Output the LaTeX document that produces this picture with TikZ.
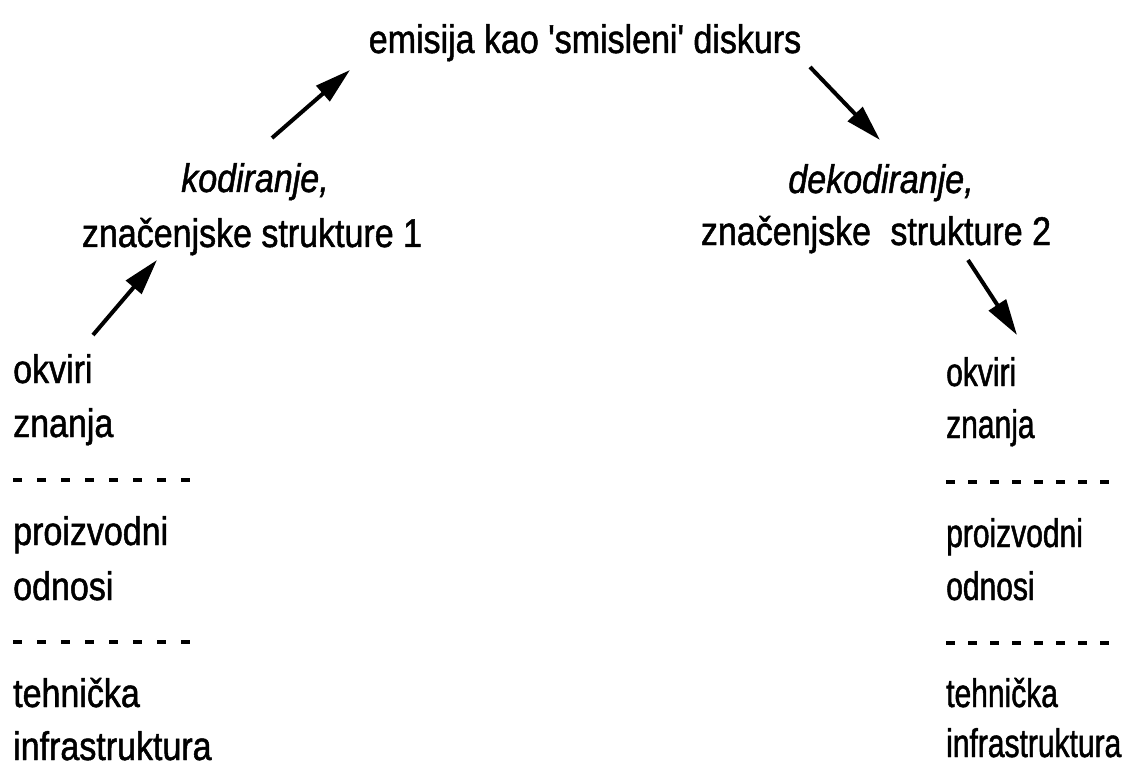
\documentclass[tikz,border=0pt]{standalone}
\usepackage{fontspec}
\usetikzlibrary{arrows.meta}
\newfontfamily\cf{Liberation Sans}[FakeStretch=0.85,FakeBold=1.2]
\newfontfamily\cfn{Liberation Sans}[FakeStretch=0.75,FakeBold=1.2]
\tikzset{
  txt/.style={font=\cf\fontsize{40}{54}\selectfont, inner sep=0pt, anchor=base west},
  rtxt/.style={font=\cfn\fontsize{40}{54}\selectfont, inner sep=0pt, anchor=base west},
  arr/.style={line width=4pt, -{Triangle[length=36pt,width=20pt]}},
  sep/.style={line width=3.5pt}
}
\begin{document}
\begin{tikzpicture}[x=1pt,y=-1pt]
\useasboundingbox[fill=white] (0,0) rectangle (1134,767);
% top
\node[txt, anchor=base] (emi) at (585,53) {emisija kao 'smisleni' diskurs};
% middle
\node[txt, anchor=base] (kod) at (255,192) {\itshape kodiranje,};
\node[txt, anchor=base] (zn1) at (252,247) {značenjske strukture 1};
\node[txt, anchor=base] (dek) at (881,193) {\itshape dekodiranje,};
\node[txt, anchor=base] (zn2) at (876,245) {značenjske\hspace{0.25em} strukture 2};
% left column
\node[txt] (ok1) at (13,383) {okviri};
\node[txt] (zna1) at (13,437) {znanja};
\node[txt] (pr1) at (13,545) {proizvodni};
\node[txt] (od1) at (13,600) {odnosi};
\node[txt] (te1) at (13,707) {tehnička};
\node[txt] (in1) at (13,760) {infrastruktura};
\draw[sep, dash pattern=on 9pt off 15pt] (13,480) -- (191,480);
\draw[sep, dash pattern=on 9pt off 15pt] (13,642) -- (191,642);
% right column
\node[rtxt] (ok2) at (946,386) {okviri};
\node[rtxt] (zna2) at (946,438) {znanja};
\node[rtxt] (pr2) at (946,547) {proizvodni};
\node[rtxt] (od2) at (946,600) {odnosi};
\node[rtxt] (te2) at (946,707) {tehnička};
\node[rtxt] (in2) at (946,757) {infrastruktura};
\draw[sep, dash pattern=on 9pt off 13pt] (946,482) -- (1110,482);
\draw[sep, dash pattern=on 9pt off 13pt] (946,643) -- (1110,643);
% arrow ends
\coordinate (a1s) at (93,335);  \coordinate (a1e) at (157,260);
\coordinate (a2s) at (272,138); \coordinate (a2e) at (350,70);
\coordinate (a3s) at (810,67);  \coordinate (a3e) at (880,140);
\coordinate (a4s) at (968,260); \coordinate (a4e) at (1017,335);
\draw[arr] (a1s) -- (a1e);
\draw[arr] (a2s) -- (a2e);
\draw[arr] (a3s) -- (a3e);
\draw[arr] (a4s) -- (a4e);
\end{tikzpicture}
\end{document}
